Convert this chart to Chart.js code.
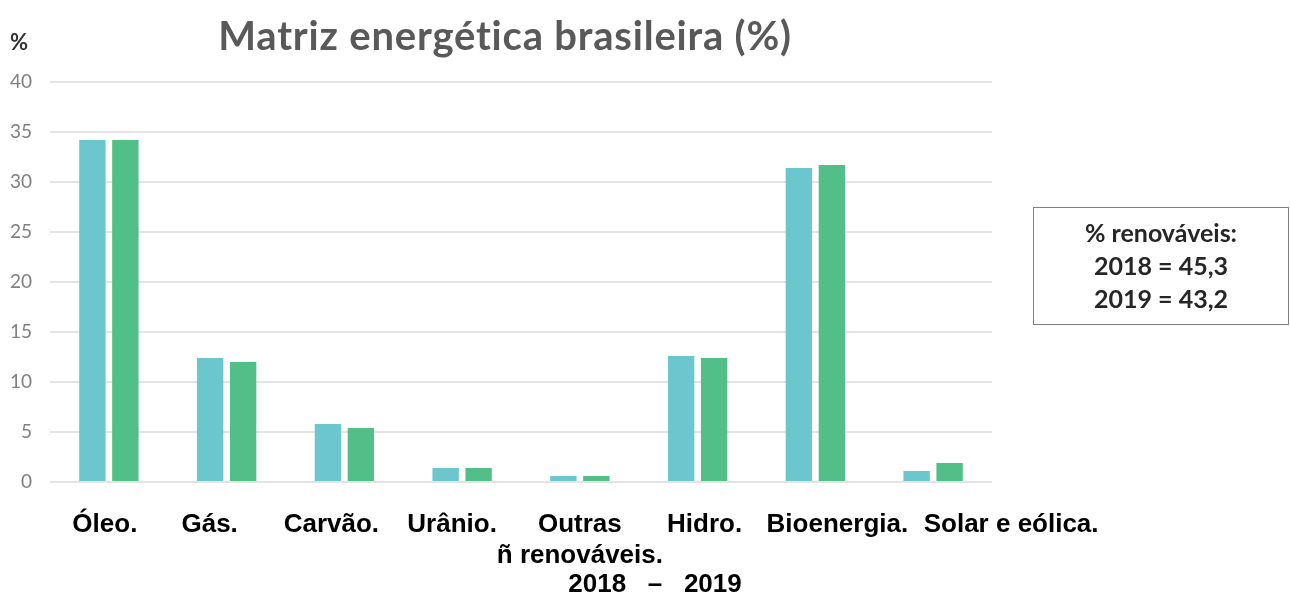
<!DOCTYPE html>
<html>
<head>
<meta charset="utf-8">
<script src="https://cdn.jsdelivr.net/npm/chart.js@4.4.1/dist/chart.umd.min.js"></script>
<style>
    html, body { margin: 0; padding: 0; background: #fff; }
    #wrap { position: relative; width: 1290px; height: 593px; }
    #infoBox {
        position: absolute;
        left: 1033px; top: 207px;
        width: 256px; height: 118px;
        border: 1.5px solid #7f7f7f;
        font-family: Lato, "Open Sans", sans-serif;
        font-weight: bold;
        font-size: 25px;
        line-height: 33px;
        color: #262626;
        text-align: center;
        padding-top: 8px;
        box-sizing: border-box;
    }
</style>
</head>
<body>
<div id="wrap">
    <canvas id="matrizChart" width="1290" height="593"></canvas>
    <div id="infoBox">% renováveis:<br>2018 = 45,3<br>2019 = 43,2</div>
</div>
<script>
// Data
const categories = ['Óleo.', 'Gás.', 'Carvão.', 'Urânio.', ['Outras', 'ñ renováveis.'], 'Hidro.', 'Bioenergia.', 'Solar e eólica.'];
const values2018 = [34.2, 12.4, 5.8, 1.4, 0.6, 12.6, 31.4, 1.1];
const values2019 = [34.2, 12.0, 5.4, 1.4, 0.6, 12.4, 31.7, 1.9];
const yTicks = [0, 5, 10, 15, 20, 25, 30, 35, 40];

// label nudges (px) so the category names sit like in the original
const labelShift = [-4, -17, -13, -10, 0, 7, 22, 78];

const labelPlugin = {
    id: 'labelPlugin',
    afterDraw(chart) {
        const ctx = chart.ctx;
        const xScale = chart.scales.x;
        ctx.save();

        // title (centred a bit left of the plot, like the original)
        ctx.fillStyle = '#595959';
        ctx.font = 'bold 40px Lato, sans-serif';
        ctx.letterSpacing = '0.8px';
        ctx.textAlign = 'center';
        ctx.textBaseline = 'alphabetic';
        ctx.fillText('Matriz energética brasileira (%)', 505, 50);
        ctx.letterSpacing = '0px';

        // category labels
        ctx.fillStyle = '#000';
        ctx.font = 'bold 26px "Liberation Sans", Arial, sans-serif';
        categories.forEach(function(label, i) {
            const x = xScale.getPixelForValue(i) + labelShift[i];
            const lines = Array.isArray(label) ? label : [label];
            lines.forEach(function(line, j) {
                ctx.fillText(line, x, 532 + j * 31);
            });
        });
        // x axis caption
        ctx.fillText('2018   –   2019', 655, 592);

        // % unit above the y axis
        ctx.fillStyle = '#333';
        ctx.font = 'bold 22px Lato, sans-serif';
        ctx.textAlign = 'left';
        ctx.fillText('%', 10, 50);
        ctx.restore();
    }
};

const ctx = document.getElementById('matrizChart').getContext('2d');
new Chart(ctx, {
    type: 'bar',
    data: {
        labels: categories,
        datasets: [
            {
                label: '2018',
                data: values2018,
                backgroundColor: '#6cc6cd',
                categoryPercentage: 0.56,
                barPercentage: 0.8
            },
            {
                label: '2019',
                data: values2019,
                backgroundColor: '#52be88',
                categoryPercentage: 0.56,
                barPercentage: 0.8
            }
        ]
    },
    options: {
        responsive: false,
        animation: false,
        layout: {
            padding: { left: 0, right: 298, top: 82, bottom: 103 }
        },
        plugins: {
            legend: { display: false },
            tooltip: { enabled: false },
            title: { display: false }
        },
        scales: {
            x: {
                grid: { display: false },
                border: { display: false },
                ticks: { display: false }
            },
            y: {
                min: 0,
                max: 40,
                afterBuildTicks: function(scale) {
                    scale.ticks = yTicks.map(v => ({ value: v }));
                },
                afterFit: function(scale) {
                    scale.width = 50;
                },
                grid: {
                    color: '#e4e4e4',
                    lineWidth: 2,
                    drawTicks: false
                },
                border: { display: false },
                ticks: {
                    color: '#808080',
                    font: { family: 'Lato', size: 19 },
                    padding: 18
                }
            }
        }
    },
    plugins: [labelPlugin]
});
</script>
</body>
</html>
